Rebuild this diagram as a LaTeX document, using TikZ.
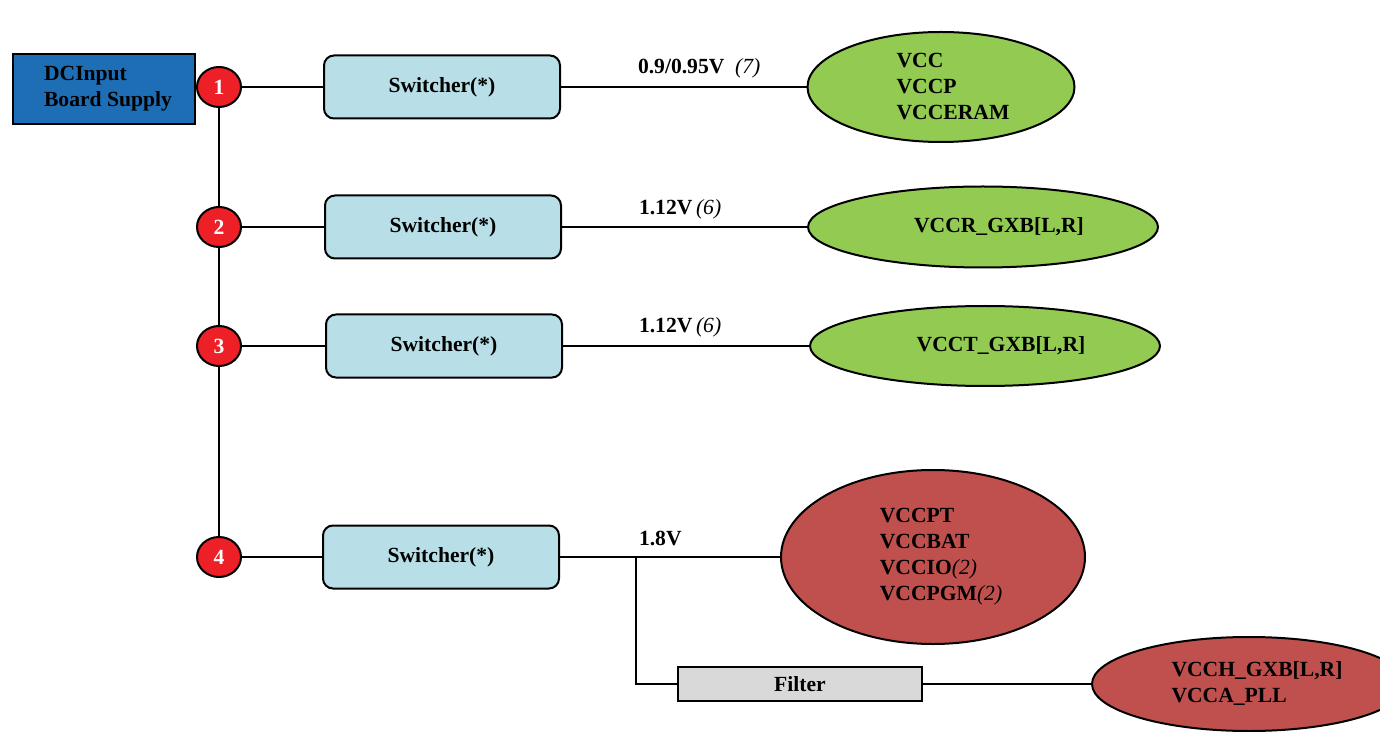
\documentclass[tikz,border=0pt]{standalone}
\usepackage{fontspec}
\setmainfont{Liberation Serif}
\usetikzlibrary{shapes.geometric}
\usetikzlibrary{positioning}
\definecolor{supplyblue}{RGB}{30,110,181}
\definecolor{numred}{RGB}{236,32,38}
\definecolor{switchblue}{RGB}{184,223,231}
\definecolor{loadgreen}{RGB}{146,202,82}
\definecolor{loadred}{RGB}{192,80,77}
\definecolor{filtergrey}{RGB}{217,217,217}
\tikzset{
my lines/.style={line width=1pt}, % All lines 2px
my font/.style={font=\fontsize{10.8}{13}\selectfont\bfseries},
my supply/.style={draw,fill=supplyblue,rectangle,minimum width=91pt,minimum height=35pt,align=left,my font},
my num/.style={draw,fill=numred,ellipse,minimum width=22pt,minimum height=20pt,inner sep=0pt,text=white,my font},
my switcher/.style={draw,fill=switchblue,rectangle,rounded corners=5pt,minimum width=118pt,minimum height=31.5pt,my font},
my filter/.style={draw,fill=filtergrey,rectangle,minimum width=122pt,minimum height=17pt,inner sep=0pt,my font},
my load/.style={draw,ellipse,align=left,inner sep=0pt,my font},
green load/.style={my load,fill=loadgreen},
red load/.style={my load,fill=loadred},
my volt/.style={anchor=west,inner sep=0pt,my font},
}
\newcommand{\mynote}[1]{{\mdseries\itshape #1}}

\begin{document}
\begin{tikzpicture}[x=0.5pt,y=-0.5pt,my lines]
\useasboundingbox (0,0) rectangle (1380,732);
% supply and rail taps
\node[my supply] (dc) at (104,89) {\hspace*{4pt}DCInput\\\hspace*{4pt}Board Supply};
\node[my num] (n1) at (219,87)  {1};
\node[my num] (n2) at (219,227) {2};
\node[my num] (n3) at (219,346) {3};
\node[my num] (n4) at (219,557) {4};
% regulators
\node[my switcher] (s1) at (442,87)  {Switcher(*)};
\node[my switcher] (s2) at (443,227) {Switcher(*)};
\node[my switcher] (s3) at (444,346) {Switcher(*)};
\node[my switcher] (s4) at (441,557) {Switcher(*)};
\node[my filter]   (f)  at (800,684) {Filter};
% loads
\node[green load,minimum width=133.5pt,minimum height=55pt] (l1) at (941,87)
  {\hspace*{12pt}VCC\\\hspace*{12pt}VCCP\\\hspace*{12pt}VCCERAM};
\node[green load,minimum width=175pt,minimum height=40.5pt] (l2) at (983,227)
  {\hspace*{16pt}VCCR\_GXB[L,R]};
\node[green load,minimum width=175pt,minimum height=40pt] (l3) at (985,346)
  {\hspace*{16pt}VCCT\_GXB[L,R]};
\node[red load,minimum width=152pt,minimum height=87pt] (l4) at (933,557)
  {\hspace*{8pt}VCCPT\\\hspace*{8pt}VCCBAT\\\hspace*{8pt}VCCIO\mynote{(2)}\\\hspace*{8pt}VCCPGM\mynote{(2)}};
\node[red load,minimum width=157pt,minimum height=47pt] (l5) at (1249,684)
  {\hspace*{8pt}VCCH\_GXB[L,R]\\\hspace*{8pt}VCCA\_PLL};
% voltages
\node[my volt] (v1) at (637,68)  {0.9/0.95V\ \ \mynote{(7)}};
\node[my volt] (v2) at (638,209) {1.12V\,\mynote{(6)}};
\node[my volt] (v3) at (638,327) {1.12V\,\mynote{(6)}};
\node[my volt] (v4) at (638,538) {1.8V};
\coordinate (j) at (636,557);
% wiring
\draw (n1) -- (n2) -- (n3) -- (n4);
\draw (n1) -- (s1) -- (l1);
\draw (n2) -- (s2) -- (l2);
\draw (n3) -- (s3) -- (l3);
\draw (n4) -- (s4) -- (l4);
\draw (j) |- (f);
\draw (f) -- (l5);
\end{tikzpicture}
\end{document}
